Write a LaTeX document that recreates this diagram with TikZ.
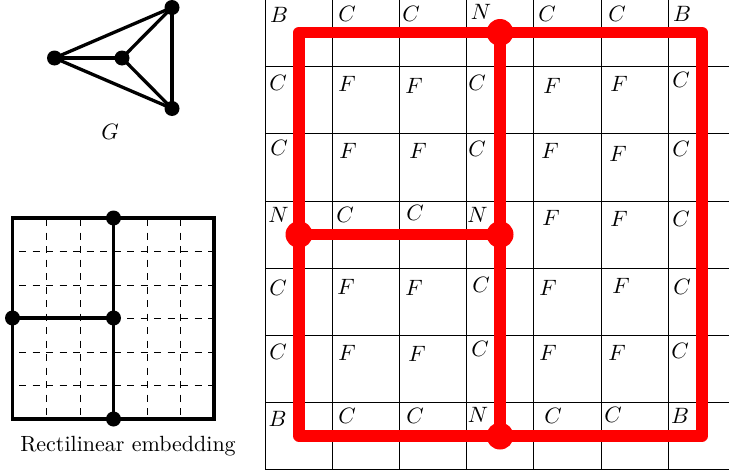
\documentclass[tikz,border=0pt]{standalone}
\tikzset{
  gridline/.style={black, line width=0.8pt},
  dashline/.style={black, line width=0.9pt, dash pattern=on 7pt off 6.5pt},
  thick edge/.style={black, line width=3.3pt},
  blackdot/.style={circle, fill=black, draw=none, inner sep=0pt, minimum size=15pt},
  reddot/.style={circle, fill=red, draw=none, inner sep=0pt, minimum size=27pt},
  rededge/.style={red, line width=11.5pt, line join=round, line cap=round},
  lab/.style={inner sep=0pt, scale=2.22},
  cap text/.style={inner sep=0pt, scale=2.2}
}
\begin{document}
\begin{tikzpicture}[x=1pt,y=-1pt]
\useasboundingbox (0,0) rectangle (729,474);
% Graph G
\node[blackdot] (a) at (54.5,58) {};
\node[blackdot] (b) at (122,58) {};
\node[blackdot] (c) at (172,7.5) {};
\node[blackdot] (d) at (172,108.5) {};
\draw[thick edge] (a.center) -- (b.center);
\draw[thick edge] (a.center) -- (c.center);
\draw[thick edge] (a.center) -- (d.center);
\draw[thick edge] (b.center) -- (c.center);
\draw[thick edge] (b.center) -- (d.center);
\draw[thick edge] (c.center) -- (d.center);
\node[lab] (gname) at (110,132) {$G$};
% Rectilinear embedding
\foreach \x in {46.5,80,147,180.5} \draw[dashline] (\x,219) -- (\x,419);
\foreach \y in {251.5,285,352,385.5} \draw[dashline] (19,\y) -- (214,\y);
\draw[dashline] (113.5,318) -- (214,318);
\node[blackdot] (et) at (113.5,218) {};
\node[blackdot] (el) at (12.5,318) {};
\node[blackdot] (em) at (113.5,318) {};
\node[blackdot] (eb) at (113.5,419) {};
\draw[thick edge, line join=miter] (12.5,218) rectangle (214,419);
\draw[thick edge] (et.center) -- (em.center);
\draw[thick edge] (em.center) -- (eb.center);
\draw[thick edge] (el.center) -- (em.center);
\node[cap text] (ecap) at (128,446) {Rectilinear embedding};
% Grid
\foreach \x in {265,332,399.5,466.5,533.5,601,668} \draw[gridline] (\x,0) -- (\x,469.5);
\foreach \y in {66.5,133.5,201,268,335,402.5,469.5} \draw[gridline] (265,\y) -- (729,\y);
% Labels
\foreach \t/\x/\y in {
 B/279/15, C/347/14, C/411/14, N/481/12, C/547/14, C/617/14, B/682/14,
 C/278/83, F/347/84, F/414/86, C/477/83, F/552/86, F/619/84, C/681/80,
 C/279/148, F/348/151, F/418/151, C/477/149, F/550/151, F/618/154, C/681/149,
 N/278.5/215, C/345/215, C/415/213, N/477.5/215, F/551/218, F/619/219, C/681/219,
 C/278/288, F/346/287, F/414/288, C/481/285, F/548/288, F/621/286, C/682/287,
 C/278/352, F/347/353, F/417/354, C/480/349, F/548/353, F/617/353, C/680/351,
 B/277.5/419, C/347/416, C/415/416, N/478/415, C/553/416, C/613/415, B/680/416}
  \node[lab] at (\x,\y) {$\t$};
% Red subdivision
\coordinate (tl) at (299,32.5);
\coordinate (tr) at (702,32.5);
\coordinate (br) at (702,436);
\coordinate (bl) at (299,436);
\node[reddot] (rt) at (500,32.5) {};
\node[reddot] (rl) at (299,234.5) {};
\node[reddot] (rm) at (500,234.5) {};
\node[reddot] (rb) at (500,436) {};
\draw[rededge] (tl) -- (tr) -- (br) -- (bl) -- cycle;
\draw[rededge] (rt.center) -- (rm.center);
\draw[rededge] (rm.center) -- (rb.center);
\draw[rededge] (rl.center) -- (rm.center);
\end{tikzpicture}
\end{document}
